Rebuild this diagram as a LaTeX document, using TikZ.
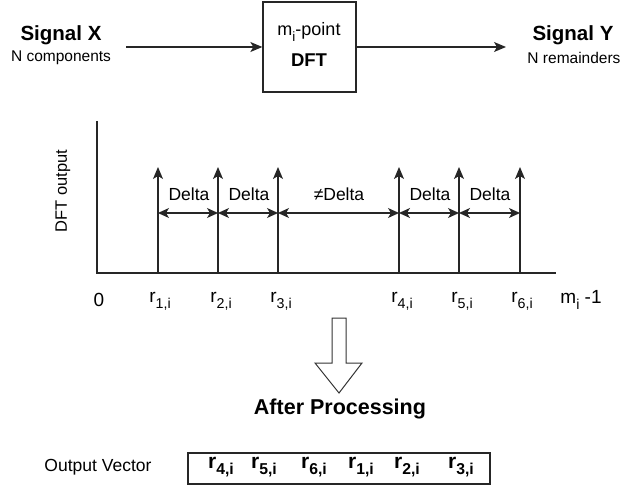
\documentclass[tikz,border=0pt]{standalone}
\usepackage{fontspec}
\usepackage{graphicx}
\setmainfont{Liberation Sans}
\usetikzlibrary{arrows.meta}
\newcommand{\lowsub}[1]{\raisebox{-0.3em}{\scalebox{0.75}{#1}}}
\tikzset{
  ln/.style={line width=1.3pt, draw=black!85},
  arr/.style={ln, -{Stealth[length=12pt,width=10pt,inset=3pt]}},
  darr/.style={ln, {Stealth[length=11pt,width=10pt,inset=3pt]}-{Stealth[length=11pt,width=10pt,inset=3pt]}},
  big/.style={font=\fontsize{20.5}{24}\selectfont\bfseries},
  small/.style={font=\fontsize{15.5}{18}\selectfont},
  lab/.style={font=\fontsize{17.5}{20}\selectfont},
  rlab/.style={font=\fontsize{19}{22}\selectfont},
  vec/.style={font=\fontsize{21}{24}\selectfont\bfseries, inner sep=0pt},
}
\begin{document}
\begin{tikzpicture}[x=1pt,y=-1pt]
\useasboundingbox (0,0) rectangle (621,489);
% top chain
\node[big] (sx) at (61,35) {Signal X};
\node[small] (sxs) at (61,58) {N components};
\node[ln, draw, minimum width=93pt, minimum height=90pt] (dft) at (309.5,47) {};
\node[font=\fontsize{18}{21}\selectfont] (dft1) at (309,32) {m\lowsub{i}-point};
\node[font=\fontsize{18.5}{21}\selectfont\bfseries] (dft2) at (309,60) {DFT};
\node[big] (sy) at (573,35) {Signal Y};
\node[small] (sys) at (574,58) {N remainders};
\coordinate (a1s) at (126,47);
\coordinate (a2e) at (506,47);
\draw[arr] (a1s) -- (dft.west |- a1s);
\draw[arr] (dft.east |- a2e) -- (a2e);
% plot axes
\coordinate (o) at (97,273);
\coordinate (ytop) at (97,121);
\coordinate (xend) at (556,273);
\draw[ln] (ytop) -- (o) -- (xend);
\node[font=\fontsize{16.5}{19}\selectfont, rotate=90] (ylab) at (63,191) {DFT output};
% spikes
\foreach \n/\x in {1/158,2/218,3/278,4/399,5/459,6/520}{
  \coordinate (b\n) at (\x,273);
  \coordinate (t\n) at (\x,167);
  \coordinate (d\n) at (\x,213);
  \draw[arr] (b\n) -- (t\n);
}
\draw[darr] (d1) -- (d2);
\draw[darr] (d2) -- (d3);
\draw[darr] (d3) -- (d4);
\draw[darr] (d4) -- (d5);
\draw[darr] (d5) -- (d6);
\node[lab] (l1) at (189,194) {Delta};
\node[lab] (l2) at (249,194) {Delta};
\node[lab] (l3) at (339,194) {≠Delta};
\node[lab] (l4) at (430,194) {Delta};
\node[lab] (l5) at (490,194) {Delta};
% x labels
\node[rlab] (x0) at (99,300) {0};
\node[rlab] (xr1) at (160,301) {r\lowsub{1,i}};
\node[rlab] (xr2) at (221,301) {r\lowsub{2,i}};
\node[rlab] (xr3) at (281,301) {r\lowsub{3,i}};
\node[rlab] (xr4) at (402,301) {r\lowsub{4,i}};
\node[rlab] (xr5) at (462,301) {r\lowsub{5,i}};
\node[rlab] (xr6) at (522,301) {r\lowsub{6,i}};
\node[rlab] (xm) at (581,300) {m\lowsub{i} -1};
% block arrow
\draw[line width=1pt, draw=black!80, fill=white] (332,318) -- (346,318) -- (346,363) -- (362,363) -- (339,393) -- (315,363) -- (332,363) -- cycle;
\node[font=\fontsize{21.5}{24}\selectfont\bfseries] (ap) at (340,409) {After Processing};
% output vector
\node[font=\fontsize{17.5}{20}\selectfont] (ov) at (98,467) {Output Vector};
\node[ln, draw, minimum width=302pt, minimum height=31pt] (vbox) at (339,468.5) {};
\node[vec] (v4) at (221,467) {r\lowsub{4,i}};
\node[vec] (v5) at (264,467) {r\lowsub{5,i}};
\node[vec] (v6) at (314,467) {r\lowsub{6,i}};
\node[vec] (v1) at (361,467) {r\lowsub{1,i}};
\node[vec] (v2) at (407,467) {r\lowsub{2,i}};
\node[vec] (v3) at (461,467) {r\lowsub{3,i}};
\end{tikzpicture}
\end{document}
